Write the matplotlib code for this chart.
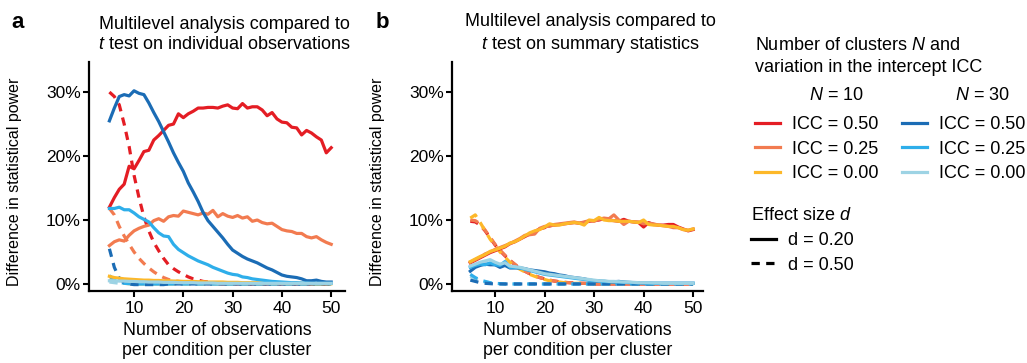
import numpy as np
import matplotlib
matplotlib.use("Agg")
import matplotlib.pyplot as plt
from matplotlib.lines import Line2D
from matplotlib.ticker import FuncFormatter

plt.rcParams['font.family'] = ['Liberation Sans', 'DejaVu Sans']
plt.rcParams['mathtext.fontset'] = 'custom'
plt.rcParams['mathtext.rm'] = 'Liberation Sans'
plt.rcParams['mathtext.it'] = 'Liberation Sans:italic'
plt.rcParams['mathtext.bf'] = 'Liberation Sans:bold'

# ---------------- data ----------------
obs = list(range(5, 51))  # observations per condition per cluster

# Panel a: multilevel vs t test on individual observations (%)
a_n10_icc50_d20 = [12.0, 13.5, 14.8, 15.6, 18.4, 18.0, 19.3, 20.7, 20.9, 22.5,
                   23.2, 24.0, 24.8, 25.0, 26.6, 26.0, 26.6, 27.0, 27.5, 27.5,
                   27.6, 27.6, 27.5, 27.8, 28.0, 27.5, 27.4, 28.2, 27.5, 27.7,
                   27.7, 27.2, 26.3, 26.8, 25.8, 25.3, 25.2, 24.5, 24.4, 23.3,
                   24.0, 23.6, 23.0, 22.5, 20.5, 21.3]
a_n10_icc25_d20 = [6.0, 6.6, 6.9, 6.7, 7.6, 8.3, 8.7, 9.0, 9.2, 9.9,
                   10.2, 9.8, 10.5, 10.7, 10.6, 11.4, 11.2, 11.0, 10.8, 11.1,
                   10.9, 11.5, 10.5, 11.0, 10.6, 10.4, 10.7, 10.3, 10.5, 9.8,
                   10.0, 9.6, 9.4, 9.5, 9.0, 8.5, 8.3, 8.2, 7.9, 7.9,
                   7.4, 7.2, 7.4, 6.9, 6.5, 6.2]
a_n10_icc00_d20 = [1.2, 1.0, 0.9, 0.8, 0.75, 0.7, 0.65, 0.6, 0.6, 0.55,
                   0.55, 0.5, 0.5, 0.45, 0.45, 0.4, 0.4, 0.4, 0.35, 0.35,
                   0.3, 0.3, 0.3, 0.3, 0.25, 0.25, 0.25, 0.2, 0.2, 0.2,
                   0.2, 0.15, 0.15, 0.15, 0.15, 0.1, 0.1, 0.1, 0.1, 0.1,
                   0.1, 0.05, 0.05, 0.05, 0.05, 0.05]
a_n30_icc50_d20 = [25.5, 27.5, 29.3, 29.6, 29.4, 30.2, 29.8, 29.6, 28.3, 26.8,
                   25.4, 23.8, 22.2, 20.5, 19.0, 17.6, 15.8, 14.4, 12.9, 11.2,
                   9.9, 9.0, 8.1, 7.2, 6.2, 5.3, 4.8, 4.3, 3.9, 3.6,
                   3.3, 2.9, 2.5, 2.2, 1.8, 1.4, 1.2, 1.1, 1.0, 0.8,
                   0.5, 0.5, 0.6, 0.4, 0.3, 0.3]
a_n30_icc25_d20 = [11.8, 11.8, 12.0, 11.6, 11.6, 11.1, 10.5, 10.1, 9.7, 8.8,
                   8.0, 7.5, 7.4, 6.2, 5.4, 4.9, 4.4, 4.0, 3.6, 3.3,
                   3.0, 2.6, 2.3, 2.0, 1.7, 1.5, 1.4, 1.1, 1.0, 0.8,
                   0.7, 0.6, 0.5, 0.4, 0.35, 0.3, 0.25, 0.2, 0.2, 0.15,
                   0.15, 0.1, 0.1, 0.1, 0.1, 0.1]
a_n30_icc00_d20 = [0.5, 0.5, 0.45, 0.45, 0.4, 0.4, 0.35, 0.35, 0.3, 0.3,
                   0.3, 0.25, 0.25, 0.25, 0.2, 0.2, 0.2, 0.2, 0.15, 0.15,
                   0.15, 0.15, 0.1, 0.1, 0.1, 0.1, 0.1, 0.1, 0.1, 0.1,
                   0.1, 0.1, 0.1, 0.1, 0.1, 0.1, 0.1, 0.1, 0.1, 0.1,
                   0.1, 0.1, 0.1, 0.1, 0.1, 0.1]
a_n10_icc50_d50 = [30.0, 29.3, 28.0, 25.0, 21.5, 17.0, 13.5, 10.5, 8.3, 6.5,
                   5.2, 4.0, 3.0, 2.4, 1.9, 1.5, 1.1, 0.8, 0.6, 0.4,
                   0.3, 0.2, 0.15, 0.1, 0.1, 0.05, 0.05, 0.0, 0.0, 0.0,
                   0.0, 0.0, 0.0, 0.0, 0.0, 0.0, 0.0, 0.0, 0.0, 0.0,
                   0.0, 0.0, 0.0, 0.0, 0.0, 0.0]
a_n10_icc25_d50 = [11.8, 10.8, 9.0, 7.5, 6.2, 5.0, 4.0, 3.2, 2.5, 1.9,
                   1.4, 1.0, 0.7, 0.5, 0.4, 0.3, 0.2, 0.15, 0.1, 0.1,
                   0.05, 0.05, 0.0, 0.0, 0.0, 0.0, 0.0, 0.0, 0.0, 0.0,
                   0.0, 0.0, 0.0, 0.0, 0.0, 0.0, 0.0, 0.0, 0.0, 0.0,
                   0.0, 0.0, 0.0, 0.0, 0.0, 0.0]
a_n10_icc00_d50 = [0.8, 0.4, 0.2, 0.1, 0.05, 0.0, 0.0, 0.0, 0.0, 0.0,
                   0.0, 0.0, 0.0, 0.0, 0.0, 0.0, 0.0, 0.0, 0.0, 0.0,
                   0.0, 0.0, 0.0, 0.0, 0.0, 0.0, 0.0, 0.0, 0.0, 0.0,
                   0.0, 0.0, 0.0, 0.0, 0.0, 0.0, 0.0, 0.0, 0.0, 0.0,
                   0.0, 0.0, 0.0, 0.0, 0.0, 0.0]
a_n30_icc50_d50 = [5.5, 2.6, 0.9, 0.2, 0.0, -0.1, -0.1, -0.1, -0.1, -0.1,
                   -0.1, -0.1, 0.0, 0.0, 0.0, 0.0, 0.0, 0.0, 0.0, 0.0,
                   0.0, 0.0, 0.0, 0.0, 0.0, 0.0, 0.0, 0.0, 0.0, 0.0,
                   0.0, 0.0, 0.0, 0.0, 0.0, 0.0, 0.0, 0.0, 0.0, 0.0,
                   0.0, 0.0, 0.0, 0.0, 0.0, 0.0]
a_n30_icc25_d50 = [1.3, 0.6, 0.3, 0.1, 0.05, 0.0, 0.0, 0.0, 0.0, 0.0,
                   0.0, 0.0, 0.0, 0.0, 0.0, 0.0, 0.0, 0.0, 0.0, 0.0,
                   0.0, 0.0, 0.0, 0.0, 0.0, 0.0, 0.0, 0.0, 0.0, 0.0,
                   0.0, 0.0, 0.0, 0.0, 0.0, 0.0, 0.0, 0.0, 0.0, 0.0,
                   0.0, 0.0, 0.0, 0.0, 0.0, 0.0]
a_n30_icc00_d50 = [0.3, 0.2, 0.1, 0.1, 0.05, 0.0, 0.0, 0.0, 0.0, 0.0,
                   0.0, 0.0, 0.0, 0.0, 0.0, 0.0, 0.0, 0.0, 0.0, 0.0,
                   0.0, 0.0, 0.0, 0.0, 0.0, 0.0, 0.0, 0.0, 0.0, 0.0,
                   0.0, 0.0, 0.0, 0.0, 0.0, 0.0, 0.0, 0.0, 0.0, 0.0,
                   0.0, 0.0, 0.0, 0.0, 0.0, 0.0]

# Panel b: multilevel vs t test on summary statistics (%)
b_n10_icc50_d20 = [3.3, 3.7, 4.1, 4.5, 4.9, 5.2, 5.5, 5.8, 6.3, 6.6,
                   7.0, 7.4, 7.8, 8.2, 8.6, 8.8, 9.3, 9.2, 9.3, 9.4,
                   9.5, 9.6, 9.5, 9.6, 9.8, 9.9, 10.0, 10.2, 10.0, 9.9,
                   9.8, 10.1, 9.8, 9.7, 9.6, 8.9, 9.6, 9.3, 9.2, 9.2,
                   9.3, 9.3, 8.9, 8.6, 8.3, 8.5]
b_n10_icc25_d20 = [3.4, 3.8, 4.2, 4.7, 5.0, 5.4, 5.7, 6.0, 6.3, 6.7,
                   7.1, 7.6, 7.7, 7.8, 8.7, 9.0, 9.0, 9.3, 9.4, 9.5,
                   9.6, 9.7, 9.5, 9.7, 9.9, 9.8, 10.1, 10.3, 10.2, 10.8,
                   10.0, 9.3, 9.8, 9.7, 9.7, 9.4, 9.5, 9.4, 9.2, 9.1,
                   9.0, 8.8, 8.8, 8.5, 8.4, 8.6]
b_n10_icc00_d20 = [3.5, 3.9, 4.3, 4.6, 5.1, 5.3, 5.6, 5.9, 6.4, 6.6,
                   7.0, 7.5, 8.0, 8.3, 8.5, 8.9, 9.4, 9.2, 9.2, 9.4,
                   9.5, 9.6, 9.5, 9.2, 10.0, 9.9, 10.4, 10.0, 9.9, 9.9,
                   9.8, 9.8, 9.8, 9.7, 9.6, 10.0, 9.3, 9.2, 9.2, 9.1,
                   9.0, 9.0, 8.8, 8.5, 8.4, 8.6]
b_n30_icc50_d20 = [2.0, 2.6, 2.9, 3.1, 3.0, 3.0, 2.6, 2.9, 2.5, 2.5,
                   2.5, 2.4, 2.2, 2.1, 2.0, 1.9, 1.7, 1.6, 1.4, 1.3,
                   1.1, 1.0, 0.9, 0.8, 0.6, 0.5, 0.45, 0.4, 0.35, 0.35,
                   0.4, 0.3, 0.25, 0.2, 0.2, 0.15, 0.15, 0.1, 0.1, 0.1,
                   0.1, 0.1, 0.1, 0.1, 0.1, 0.1]
b_n30_icc25_d20 = [2.6, 2.9, 3.1, 3.0, 3.3, 3.0, 2.9, 3.5, 2.6, 2.6,
                   2.5, 2.3, 2.1, 1.9, 1.7, 1.5, 1.4, 1.3, 1.2, 1.1,
                   1.0, 0.9, 0.8, 0.7, 0.6, 0.5, 0.45, 0.4, 0.35, 0.3,
                   0.3, 0.25, 0.2, 0.2, 0.15, 0.15, 0.1, 0.1, 0.1, 0.1,
                   0.1, 0.1, 0.1, 0.1, 0.1, 0.1]
b_n30_icc00_d20 = [2.8, 3.1, 3.4, 3.6, 3.8, 3.4, 3.1, 3.3, 2.8, 2.7,
                   2.6, 2.4, 2.2, 2.0, 1.8, 1.6, 1.5, 1.4, 1.3, 1.2,
                   1.1, 1.0, 0.9, 0.8, 0.7, 0.6, 0.5, 0.5, 0.4, 0.4,
                   0.35, 0.3, 0.3, 0.25, 0.2, 0.2, 0.2, 0.15, 0.15, 0.1,
                   0.1, 0.1, 0.1, 0.1, 0.1, 0.1]
b_n10_icc50_d50 = [9.8, 9.7, 9.2, 8.3, 7.2, 6.1, 5.2, 4.4, 3.7, 3.0,
                   2.4, 2.0, 1.6, 1.3, 1.0, 0.8, 0.6, 0.45, 0.35, 0.25,
                   0.2, 0.15, 0.1, 0.1, 0.05, 0.0, 0.0, 0.0, 0.0, 0.0,
                   0.0, 0.0, 0.0, 0.0, 0.0, 0.0, 0.0, 0.0, 0.0, 0.0,
                   0.0, 0.0, 0.0, 0.0, 0.0, 0.0]
b_n10_icc25_d50 = [10.0, 9.9, 9.4, 8.4, 7.3, 6.2, 5.3, 4.5, 3.7, 3.1,
                   2.5, 2.0, 1.6, 1.3, 1.0, 0.8, 0.6, 0.45, 0.35, 0.25,
                   0.2, 0.15, 0.1, 0.1, 0.05, 0.0, 0.0, 0.0, 0.0, 0.0,
                   0.0, 0.0, 0.0, 0.0, 0.0, 0.0, 0.0, 0.0, 0.0, 0.0,
                   0.0, 0.0, 0.0, 0.0, 0.0, 0.0]
b_n10_icc00_d50 = [10.3, 10.8, 9.6, 8.3, 7.0, 6.0, 5.0, 4.2, 3.4, 2.8,
                   2.3, 1.9, 1.5, 1.2, 0.9, 0.7, 0.5, 0.4, 0.3, 0.2,
                   0.15, 0.1, 0.1, 0.05, 0.05, 0.0, 0.0, 0.0, 0.0, 0.0,
                   0.0, 0.0, 0.0, 0.0, 0.0, 0.0, 0.0, 0.0, 0.0, 0.0,
                   0.0, 0.0, 0.0, 0.0, 0.0, 0.0]
b_n30_icc50_d50 = [0.6, 0.4, 0.2, 0.1, 0.05, 0.0, 0.0, 0.0, 0.0, 0.0,
                   0.0, 0.0, 0.0, 0.0, 0.0, 0.0, 0.0, 0.0, 0.0, 0.0,
                   0.0, 0.0, 0.0, 0.0, 0.0, 0.0, 0.0, 0.0, 0.0, 0.0,
                   0.0, 0.0, 0.0, 0.0, 0.0, 0.0, 0.0, 0.0, 0.0, 0.0,
                   0.0, 0.0, 0.0, 0.0, 0.0, 0.0]
b_n30_icc25_d50 = [1.5, 1.0, 0.6, 0.4, 0.2, 0.1, 0.05, 0.0, 0.0, 0.0,
                   0.0, 0.0, 0.0, 0.0, 0.0, 0.0, 0.0, 0.0, 0.0, 0.0,
                   0.0, 0.0, 0.0, 0.0, 0.0, 0.0, 0.0, 0.0, 0.0, 0.0,
                   0.0, 0.0, 0.0, 0.0, 0.0, 0.0, 0.0, 0.0, 0.0, 0.0,
                   0.0, 0.0, 0.0, 0.0, 0.0, 0.0]
b_n30_icc00_d50 = [1.2, 0.8, 0.5, 0.3, 0.2, 0.1, 0.05, 0.0, 0.0, 0.0,
                   0.0, 0.0, 0.0, 0.0, 0.0, 0.0, 0.0, 0.0, 0.0, 0.0,
                   0.0, 0.0, 0.0, 0.0, 0.0, 0.0, 0.0, 0.0, 0.0, 0.0,
                   0.0, 0.0, 0.0, 0.0, 0.0, 0.0, 0.0, 0.0, 0.0, 0.0,
                   0.0, 0.0, 0.0, 0.0, 0.0, 0.0]

series_labels = ["ICC = 0.50", "ICC = 0.25", "ICC = 0.00"]
x_ticks = [10, 20, 30, 40, 50]
y_ticks = [0, 10, 20, 30]

# ---------------- style ----------------
C_N10 = ["#e41d24", "#f27b50", "#fdb829"]
C_N30 = ["#1b6cb5", "#2eaeea", "#9dd3e4"]
LW = 2.3
DASH = (2.6, 2.0)

fig = plt.figure(figsize=(10.27, 3.63), dpi=100)
W, H = 1027, 363


def px_axes(l, r, t, b):
    return fig.add_axes([l / W, 1 - b / H, (r - l) / W, (b - t) / H])


ax_a = px_axes(89, 345, 62, 291)
ax_b = px_axes(452, 703, 62, 291)

panels = [
    (ax_a,
     [a_n10_icc50_d20, a_n10_icc25_d20, a_n10_icc00_d20],
     [a_n30_icc50_d20, a_n30_icc25_d20, a_n30_icc00_d20],
     [a_n10_icc50_d50, a_n10_icc25_d50, a_n10_icc00_d50],
     [a_n30_icc50_d50, a_n30_icc25_d50, a_n30_icc00_d50],
     (0.86, 52.8)),
    (ax_b,
     [b_n10_icc50_d20, b_n10_icc25_d20, b_n10_icc00_d20],
     [b_n30_icc50_d20, b_n30_icc25_d20, b_n30_icc00_d20],
     [b_n10_icc50_d50, b_n10_icc25_d50, b_n10_icc00_d50],
     [b_n30_icc50_d50, b_n30_icc25_d50, b_n30_icc00_d50],
     (1.3, 52.0)),
]

for ax, s10, s30, d10, d30, xl in panels:
    for vals, c in zip(d10, C_N10):
        ax.plot(obs, vals, color=c, lw=LW, dashes=DASH)
    for vals, c in list(zip(d30, C_N30))[::-1]:
        ax.plot(obs, vals, color=c, lw=LW, dashes=DASH)
    for vals, c in zip(s10, C_N10):
        ax.plot(obs, vals, color=c, lw=LW, solid_joinstyle='round')
    for vals, c in zip(s30, C_N30):
        ax.plot(obs, vals, color=c, lw=LW, solid_joinstyle='round')
    ax.set_xlim(*xl)
    ax.set_ylim(-1.1, 34.7)
    ax.set_xticks(x_ticks)
    ax.set_yticks(y_ticks)
    ax.yaxis.set_major_formatter(FuncFormatter(lambda v, p: f"{v:.0f}%"))
    for s in ["top", "right"]:
        ax.spines[s].set_visible(False)
    for s in ["left", "bottom"]:
        ax.spines[s].set_linewidth(1.6)
    ax.tick_params(axis='both', width=1.5, length=4.5, labelsize=12.5, color='black')
    ax.tick_params(axis='y', pad=1.5)
    ax.tick_params(axis='x', pad=3)
    ax.set_xlabel("Number of observations\nper condition per cluster", fontsize=12.8, labelpad=4)
    ax.set_ylabel("Difference in statistical power", fontsize=11.5)

ax_a.yaxis.set_label_coords(-0.262, 0.475)
ax_b.yaxis.set_label_coords(-0.267, 0.475)

ax_a.set_title("Multilevel analysis compared to\n$t$ test on individual observations",
               fontsize=13, x=0.53, pad=9.5, linespacing=1.25)
ax_b.set_title("Multilevel analysis compared to\n$t$ test on summary statistics",
               fontsize=13, x=0.55, pad=9.5, linespacing=1.25)

fig.text(11 / W, 1 - 28 / H, "a", fontsize=16, fontweight='bold', va='baseline')
fig.text(376 / W, 1 - 28 / H, "b", fontsize=16, fontweight='bold', va='baseline')

# ---------------- legend ----------------
fig.text(755 / W, 1 - 45 / H, "Number of clusters $N$ and", fontsize=13, va='center')
fig.text(755 / W, 1 - 67 / H, "variation in the intercept ICC", fontsize=13, va='center')
fig.text(836 / W, 1 - 95 / H, "$N$ = 10", fontsize=13, va='center', ha='center')
fig.text(982 / W, 1 - 95 / H, "$N$ = 30", fontsize=13, va='center', ha='center')

leg_kw = dict(frameon=False, fontsize=13, handlelength=1.4, handletextpad=0.65,
              labelspacing=0.42, borderpad=0, borderaxespad=0, loc='upper left')
h10 = [Line2D([], [], color=c, lw=LW) for c in C_N10]
h30 = [Line2D([], [], color=c, lw=LW) for c in C_N30]
leg1 = fig.legend(h10, series_labels, bbox_to_anchor=(755 / W, 1 - 116 / H), **leg_kw)
leg2 = fig.legend(h30, series_labels, bbox_to_anchor=(902 / W, 1 - 116 / H), **leg_kw)

fig.text(751 / W, 1 - 215 / H, "Effect size $d$", fontsize=13, va='center')
hd = [Line2D([], [], color='black', lw=LW),
      Line2D([], [], color='black', lw=LW, dashes=DASH)]
leg3 = fig.legend(hd, ["d = 0.20", "d = 0.50"], bbox_to_anchor=(751 / W, 1 - 232 / H), **leg_kw)

fig.savefig("out.png", dpi=100)
